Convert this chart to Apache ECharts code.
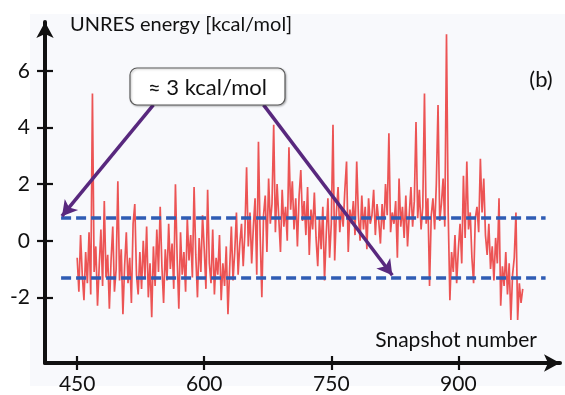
<!DOCTYPE html>
<html>
<head>
<meta charset="utf-8">
<script src="https://cdn.jsdelivr.net/npm/echarts@6/dist/echarts.min.js"></script>
<style>
  html, body { margin: 0; padding: 0; background: #ffffff; }
  #chart { width: 565px; height: 395px; }
</style>
</head>
<body>
<div id="chart"></div>
<script>
// Snapshots are sampled every other step along the trajectory
const firstSnapshot = 450;
const snapshotStep = 2;

// UNRES energy per sampled snapshot [kcal/mol], ten samples per row
const energies = [
  -0.6, -1.8, 0.2, -1.2, -2.1, -0.4, -1.5, 0.3, -1.9, 5.2,
  -1.1, -0.2, -2.3, -0.9, 0.4, -1.6, 1.4, -1.3, -0.5, -2.4,
  -0.7, 0.5, -1.8, -1.0, 2.1, -1.4, -0.3, -2.6, -0.9, 0.3,
  -1.5, -0.6, -2.2, 0.6, 1.3, -1.2, -1.9, -0.4, -1.7, 0.0,
  -1.3, 0.5, -2.0, -0.8, -2.7, -0.2, -1.6, 0.4, -1.1, 1.2,
  -0.9, -2.2, -0.3, -1.4, 0.6, -1.0, -0.1, -1.7, 2.0, -0.6,
  -2.4, 0.3, -1.2, -0.4, -1.8, 0.8, -0.7, 0.2, -1.3, 1.9,
  -0.5, -2.0, 0.1, -1.1, 0.9, -0.3, -1.7, 1.8, -0.8, -1.5,
  0.4, -1.9, -0.6, -1.2, 0.2, -2.1, -0.8, -1.6, -0.2, -2.6,
  -1.0, 0.5, -1.4, -0.4, 1.0, -1.2, -0.1, 0.6, -0.9, 0.3,
  2.6, -0.2, 1.0, -0.8, 0.5, 1.5, -1.2, 3.5, 0.2, -2.0,
  0.9, 1.6, -0.4, 2.2, 0.6, 1.3, 4.1, 0.3, 2.0, 0.8,
  -0.4, 1.8, 0.5, 1.2, 0.0, 3.3, 1.1, 2.1, 0.4, 1.5,
  -0.2, 1.6, 2.5, 0.7, 1.4, 0.2, 1.9, -0.5, 1.1, 0.4,
  1.7, 0.1, -0.9, 0.8, -0.3, 1.2, -1.4, 0.2, 1.5, -0.6,
  0.6, 4.1, -0.7, 1.0, 1.9, 0.3, 1.2, 0.5, 1.8, 2.8,
  -0.4, 1.1, 0.6, 1.4, 0.2, 2.8, 0.9, 0.0, 1.6, 0.4,
  1.2, -0.3, 1.5, 0.6, 0.9, 1.8, 0.2, 1.3, 0.7, -0.1,
  1.3, 0.4, 2.0, 0.9, 3.8, 0.3, 1.0, 0.6, 1.4, -0.6,
  2.2, 0.5, 1.2, 0.1, 1.6, -0.2, 0.9, 1.9, 0.5, 1.4,
  4.2, 0.8, 1.8, 0.4, 1.2, 5.2, 0.6, 1.5, -1.6, 0.9,
  1.5, 0.4, 2.0, 4.8, 0.7, 1.3, 2.2, 0.5, 7.3, 1.0,
  -2.1, -0.4, -1.1, 0.2, -1.5, -0.3, 0.6, -0.8, 2.3, 0.1,
  2.8, 0.4, 1.0, -0.6, -1.5, 0.8, 1.2, 0.3, 2.9, 1.0,
  2.2, 0.2, -0.5, 0.6, -1.0, -0.2, -1.4, 0.1, -0.8, 1.5,
  -2.3, -0.9, -1.6, -0.4, -1.9, -0.8, -2.8, -1.2, -0.6, 1.0,
  -2.8, -1.5, -2.2, -1.7
];

const xTicks = [450, 600, 750, 900];
const yTicks = [-2, 0, 2, 4, 6];

// Dashed guide levels bracketing the energy fluctuation band
const bandLevels = [0.83, -1.29];
const bandSpan = [431, 1003];

// Callout arrows: [from, to] in (snapshot, energy) coordinates
const arrows = [
  [[540, 4.8], [432, 0.87]],
  [[670, 4.8], [822, -1.22]]
];

const gapLabel = '\u2248 3 kcal/mol';
const yTitle = 'UNRES energy [kcal/mol]';
const xTitle = 'Snapshot number';
const panelTag = '(b)';

const FONT = 'Lato, "Open Sans", sans-serif';
const INK = '#111111';

const xRange = { min: 412, max: 1020 };
const yRange = { min: -4.32, max: 7.73 };

const tickStyle = { color: INK, width: 2.2 };

const chart = echarts.init(document.getElementById('chart'), null, { renderer: 'canvas' });

const seriesData = energies.map((e, i) => [firstSnapshot + i * snapshotStep, e]);

const option = {
  animation: false,
  backgroundColor: '#ffffff',
  grid: { left: 45, right: 5, top: 22, bottom: 32, containLabel: false },
  xAxis: [
    {
      type: 'value', position: 'bottom', ...xRange,
      axisLine: { show: true, onZero: false, lineStyle: { color: INK, width: 4 }, symbol: ['none', 'arrow'], symbolSize: [13, 16] },
      axisTick: { show: true, customValues: xTicks, length: 7, lineStyle: tickStyle },
      axisLabel: { customValues: xTicks, margin: 11, fontSize: 21, color: INK, fontFamily: FONT },
      splitLine: { show: false }
    },
    {
      type: 'value', position: 'bottom', ...xRange,
      axisLine: { show: false, onZero: false },
      axisTick: { show: true, inside: true, customValues: xTicks, length: 7, lineStyle: tickStyle },
      axisLabel: { show: false },
      splitLine: { show: false }
    }
  ],
  yAxis: [
    {
      type: 'value', position: 'left', ...yRange,
      axisLine: { show: true, onZero: false, lineStyle: { color: INK, width: 4 }, symbol: ['none', 'arrow'], symbolSize: [13, 16] },
      axisTick: { show: true, customValues: yTicks, length: 8, lineStyle: tickStyle },
      axisLabel: { customValues: yTicks, margin: 15, fontSize: 21, color: INK, fontFamily: FONT },
      splitLine: { show: false }
    },
    {
      type: 'value', position: 'left', ...yRange,
      axisLine: { show: false, onZero: false },
      axisTick: { show: true, inside: true, customValues: yTicks, length: 8, lineStyle: tickStyle },
      axisLabel: { show: false },
      splitLine: { show: false }
    }
  ],
  series: [
    {
      name: 'energy',
      type: 'line',
      data: seriesData,
      showSymbol: false,
      symbol: 'none',
      lineStyle: { color: 'rgba(232, 20, 20, 0.72)', width: 1.7 },
      silent: true,
      z: 2
    },
    {
      name: 'guides',
      type: 'line',
      data: [],
      silent: true,
      z: 3,
      markLine: {
        silent: true,
        symbol: ['none', 'none'],
        label: { show: false },
        lineStyle: { color: '#2f5cb4', width: 3.5, type: [10, 5] },
        data: bandLevels.map(v => [{ coord: [bandSpan[0], v] }, { coord: [bandSpan[1], v] }])
      }
    },
    {
      name: 'callout',
      type: 'line',
      data: [],
      silent: true,
      z: 4,
      markLine: {
        silent: true,
        symbol: ['none', 'arrow'],
        symbolSize: [13, 15],
        label: { show: false },
        lineStyle: { color: '#58287e', width: 3.5, type: 'solid' },
        data: arrows.map(([a, b]) => [{ coord: a }, { coord: b }])
      }
    }
  ],
  graphic: [
    {
      type: 'rect', z: -10, silent: true,
      shape: { x: 30, y: 14, width: 535, height: 372 },
      style: { fill: '#f8f9fc' }
    },
    {
      type: 'rect', z: 50, silent: true,
      shape: { x: 130, y: 68, width: 155, height: 37, r: 7 },
      style: { fill: '#ffffff', stroke: '#5a5a5a', lineWidth: 1.2, shadowBlur: 2, shadowColor: 'rgba(0,0,0,0.25)', shadowOffsetX: 1, shadowOffsetY: 1 }
    },
    {
      type: 'text', z: 51, silent: true,
      x: 207.5, y: 88,
      style: { text: gapLabel, fill: INK, font: '22px ' + FONT, align: 'center', verticalAlign: 'middle' }
    },
    {
      type: 'text', z: 51, silent: true,
      x: 70, y: 25,
      style: { text: yTitle, fill: INK, font: '20px ' + FONT, align: 'left', verticalAlign: 'middle' }
    },
    {
      type: 'text', z: 51, silent: true,
      x: 537, y: 340,
      style: { text: xTitle, fill: INK, font: '21px ' + FONT, align: 'right', verticalAlign: 'middle' }
    },
    {
      type: 'text', z: 51, silent: true,
      x: 541, y: 80,
      style: { text: panelTag, fill: INK, font: '22px ' + FONT, align: 'center', verticalAlign: 'middle' }
    }
  ]
};

chart.setOption(option);
</script>
</body>
</html>
